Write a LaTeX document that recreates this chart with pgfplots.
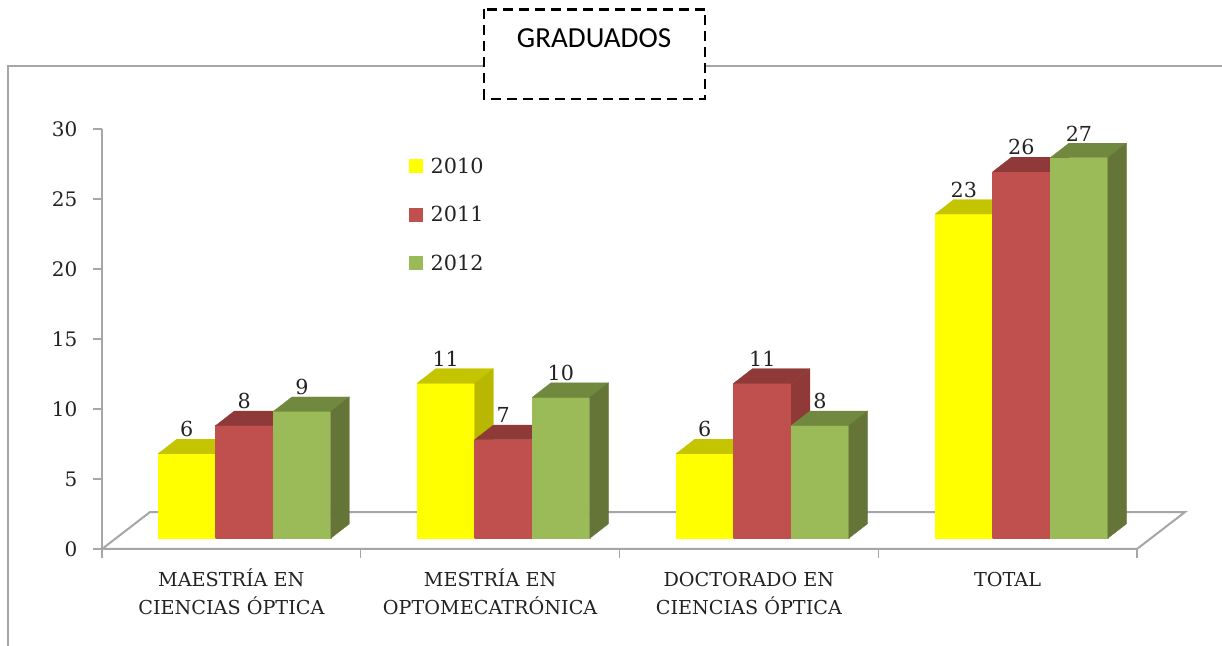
\documentclass[border=0pt]{standalone}
\usepackage{fontspec}
\setmainfont{DejaVu Serif}
\newfontfamily\titlefont{Carlito}
\usepackage{pgfplots}
\pgfplotsset{compat=1.18}

\definecolor{axgray}{HTML}{A6A6A6}
\definecolor{txt}{HTML}{222222}
\definecolor{yelF}{HTML}{FFFF00}
\definecolor{yelT}{HTML}{C4C400}
\definecolor{yelS}{HTML}{B8B800}
\definecolor{redF}{HTML}{C0504D}
\definecolor{redT}{HTML}{8F3A38}
\definecolor{redS}{HTML}{8F3A38}
\definecolor{grnF}{HTML}{9BBB59}
\definecolor{grnT}{HTML}{71893F}
\definecolor{grnS}{HTML}{657538}

% one 3D bar: left edge, value, colour prefix
\newcommand{\drawbar}[3]{%
  \pgfmathsetmacro\xa{#1}%
  \pgfmathsetmacro\xb{#1+0.2225}%
  \pgfmathsetmacro\xc{#1+0.2225+0.0725}%
  \pgfmathsetmacro\xd{#1+0.0725}%
  \pgfmathsetmacro\xm{#1+0.111}%
  \pgfmathsetmacro\ya{0.76}%
  \pgfmathsetmacro\yb{0.76+#2*1.007}%
  \pgfmathsetmacro\yc{0.76+#2*1.007+1.04}%
  \pgfmathsetmacro\yd{0.76+1.04}%
  \addplot[forget plot, fill=#3F, draw=#3F, very thin] coordinates {(\xa,\ya) (\xb,\ya) (\xb,\yb) (\xa,\yb) (\xa,\ya)};
  \addplot[forget plot, fill=#3T, draw=#3T, very thin] coordinates {(\xa,\yb) (\xb,\yb) (\xc,\yc) (\xd,\yc) (\xa,\yb)};
  \addplot[forget plot, fill=#3S, draw=#3S, very thin] coordinates {(\xb,\ya) (\xc,\yd) (\xc,\yc) (\xb,\yb) (\xb,\ya)};
  \addplot[forget plot, draw=none, nodes near coords={#2},
    nodes near coords style={anchor=center, yshift=18.25pt, text=txt, font=\fontsize{15.5}{17}\selectfont}]
    coordinates {(\xm,\yb)};
}

\begin{document}
\begin{tikzpicture}
\useasboundingbox (-76.5pt,-72.75pt) rectangle (840pt,411.75pt);
\begin{axis}[
  at={(0pt,0pt)}, anchor=origin,
  scale only axis, width=776.25pt, height=315pt,
  xmin=0, xmax=4, ymin=0, ymax=30,
  clip=false,
  axis lines=left,
  axis line style={-, draw=axgray, line width=1.5pt},
  tick align=outside,
  major tick length=6.75pt,
  ytick={0,5,10,15,20,25,30},
  ytick style={draw=axgray, line width=1pt},
  xtick={0.5,1.5,2.5,3.5},
  xticklabels={{\rule{0pt}{18pt}MAESTRÍA EN\\CIENCIAS ÓPTICA},{\rule{0pt}{18pt}MESTRÍA EN\\OPTOMECATRÓNICA},{\rule{0pt}{18pt}DOCTORADO EN\\CIENCIAS ÓPTICA},{\rule{0pt}{18pt}TOTAL}},
  xtick style={draw=none},
  extra x ticks={0,1,2,3,4},
  extra x tick labels={},
  extra x tick style={xtick style={draw=axgray, line width=1pt}},
  /pgf/number format/assume math mode=true,
  y tick label style={font=\fontsize{15}{17}\selectfont, text=txt, xshift=-8.25pt},
  x tick label style={font=\fontsize{14.4}{21}\selectfont, text=txt, align=center, yshift=0.5pt, anchor=north},
  legend style={at={(axis cs:1.1865,27.95)}, anchor=north west, draw=none, fill=none,
    inner sep=0pt, outer sep=0pt, font=\fontsize{15.6}{17}\selectfont, text=txt,
    row sep=23.25pt, nodes={inner sep=0pt}},
  legend cell align=left,
  legend image code/.code={\fill[#1, draw=none] (0pt,-5.25pt) rectangle (10.5pt,5.25pt);},
]
\addlegendimage{fill=yelF}\addlegendentry{\hspace{5.75pt}2010}
\addlegendimage{fill=redF}\addlegendentry{\hspace{5.75pt}2011}
\addlegendimage{fill=grnF}\addlegendentry{\hspace{5.75pt}2012}

% floor of the chart
\addplot[forget plot, draw=axgray, line width=1.5pt, fill=white] coordinates {(0,0) (0.1855,2.64) (4.1855,2.64) (4,0) (0,0)};

\drawbar{0.2165}{6}{yel}
\drawbar{0.4390}{8}{red}
\drawbar{0.6615}{9}{grn}

\drawbar{1.2175}{11}{yel}
\drawbar{1.4400}{7}{red}
\drawbar{1.6625}{10}{grn}

\drawbar{2.2185}{6}{yel}
\drawbar{2.4410}{11}{red}
\drawbar{2.6635}{8}{grn}

\drawbar{3.2195}{23}{yel}
\drawbar{3.4420}{26}{red}
\drawbar{3.6645}{27}{grn}
\end{axis}

% frame and title box, in pixels of the page
\begin{scope}[x=0.75pt, y=-0.75pt, shift={(-76.5pt,411.75pt)}]
  \draw[axgray, line width=1.5pt] (8,646) -- (8,66.5) -- (1222,66.5);
  \draw[black, fill=white, line width=2.2pt, dash pattern=on 7.5pt off 4.5pt] (484,9.5) rectangle (705,99);
  \node[anchor=center, text=black, font=\titlefont\fontsize{21.8}{24}\selectfont] at (594,38) {GRADUADOS};
\end{scope}
\end{tikzpicture}
\end{document}
